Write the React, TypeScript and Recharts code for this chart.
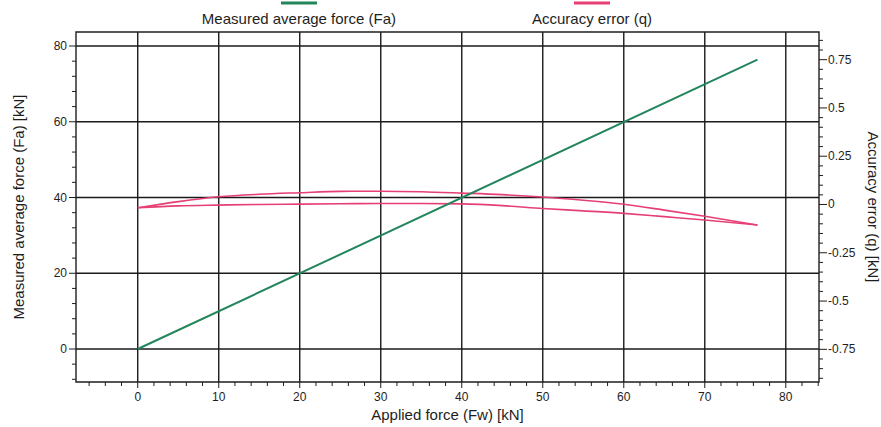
import React from 'react';
import {
  LineChart,
  Line,
  XAxis,
  YAxis,
  CartesianGrid,
  Legend,
  Label,
  ReferenceArea,
} from 'recharts';

const FONT = '"Liberation Sans", Arial, Helvetica, sans-serif';
const GREEN = '#23855b';
const PINK = '#e63f74';
const INK = '#1e1e1e';
const GRID = '#1a1a1a';

// Measured average force Fa against applied force Fw [kN]
const forceFw = [0, 76.5];
const forceFa = [0, 76.4];

// Accuracy error q [kN]: the two branches of the hysteresis loop
const errorFw = [0, 5, 10, 15, 20, 25, 30, 35, 40, 45, 50, 55, 60, 65, 70, 76.5];
const errorUpper = [-0.017, 0.015, 0.04, 0.053, 0.061, 0.068, 0.069, 0.066, 0.059, 0.051, 0.039, 0.022, 0.001, -0.029, -0.061, -0.106];
const errorLower = [-0.017, -0.007, -0.003, 0.0, 0.002, 0.004, 0.005, 0.005, 0.003, -0.006, -0.021, -0.033, -0.046, -0.063, -0.08, -0.106];

// Labelled tick values
const fwMajor = [0, 10, 20, 30, 40, 50, 60, 70, 80];
const faMajor = [0, 20, 40, 60, 80];
const qMajor = [-0.75, -0.5, -0.25, 0, 0.25, 0.5, 0.75];

const fwDomain: [number, number] = [-7.62, 84.1];
const faDomain: [number, number] = [-8.71, 83.7];
const qDomain: [number, number] = [-0.9192, 0.8933];

const series = [
  { name: 'Measured average force (Fa)', color: GREEN },
  { name: 'Accuracy error (q)', color: PINK },
];
const legendCenters = [299, 592];

// minor tick positions: every `step` from `from` to `to`
const steps = (from: number, to: number, step: number) => {
  const out: number[] = [];
  const n = Math.round((to - from) / step);
  for (let i = 0; i <= n; i++) out.push(Math.round((from + i * step) * 1000) / 1000);
  return out;
};
const fwTicks = steps(-6, 84, 2);
const faTicks = steps(-8, 80, 4);
const qTicks = steps(-0.9, 0.85, 0.05);

const faData = forceFw.map((fw, i) => ({ fw, fa: forceFa[i] }));
const upperData = errorFw.map((fw, i) => ({ fw, q: errorUpper[i] }));
const lowerData = errorFw.map((fw, i) => ({ fw, q: errorLower[i] }));

const isMajor = (list: number[], v: number) => list.some((m) => Math.abs(m - v) < 1e-6);
const fmt = (v: number) => String(Math.round(v * 100) / 100);

const tickText = { fontFamily: FONT, fontSize: 12, fill: INK } as const;

const LeftTick = (props: any) => {
  const { x, y, payload } = props;
  const major = isMajor(faMajor, payload.value);
  return (
    <g>
      <line x1={x - (major ? 7 : 4)} x2={x} y1={y} y2={y} stroke={INK} strokeWidth={1} />
      {major && (
        <text x={x - 9} y={y} textAnchor="end" dominantBaseline="central" {...tickText}>
          {fmt(payload.value)}
        </text>
      )}
    </g>
  );
};

const RightTick = (props: any) => {
  const { x, y, payload } = props;
  const major = isMajor(qMajor, payload.value);
  return (
    <g>
      <line x1={x} x2={x + (major ? 8 : 4)} y1={y} y2={y} stroke={INK} strokeWidth={1} />
      {major && (
        <text x={x + 9} y={y} textAnchor="start" dominantBaseline="central" {...tickText}>
          {fmt(payload.value)}
        </text>
      )}
    </g>
  );
};

const BottomTick = (props: any) => {
  const { x, y, payload } = props;
  const major = isMajor(fwMajor, payload.value);
  return (
    <g>
      <line x1={x} x2={x} y1={y} y2={y + (major ? 6 : 4)} stroke={INK} strokeWidth={1} />
      {major && (
        <text x={x} y={y + 15} textAnchor="middle" dominantBaseline="central" {...tickText}>
          {fmt(payload.value)}
        </text>
      )}
    </g>
  );
};

const titleText = { fontFamily: FONT, fontSize: 15, fill: INK } as const;

const LeftTitle = (props: any) => {
  const { x, y, height } = props.viewBox;
  const cx = x + 18;
  const cy = y + height / 2;
  return (
    <text x={cx} y={cy} transform={`rotate(-90 ${cx} ${cy})`} textAnchor="middle" dominantBaseline="central" {...titleText}>
      Measured average force (Fa) [kN]
    </text>
  );
};

const RightTitle = (props: any) => {
  const { x, y, height } = props.viewBox;
  const cx = x + 54;
  const cy = y + height / 2;
  return (
    <text x={cx} y={cy} transform={`rotate(90 ${cx} ${cy})`} textAnchor="middle" dominantBaseline="central" {...titleText}>
      Accuracy error (q) [kN]
    </text>
  );
};

const BottomTitle = (props: any) => {
  const { x, y, width } = props.viewBox;
  return (
    <text x={x + width / 2} y={y + 32} textAnchor="middle" dominantBaseline="central" {...titleText}>
      Applied force (Fw) [kN]
    </text>
  );
};

const LegendContent = () => (
  <svg width={881} height={32} style={{ display: 'block' }}>
    {series.map((s, i) => (
      <g key={s.name}>
        <line x1={legendCenters[i] - 18} x2={legendCenters[i] + 18} y1={3} y2={3} stroke={s.color} strokeWidth={3} />
        <text x={legendCenters[i]} y={18} textAnchor="middle" dominantBaseline="central" {...titleText}>
          {s.name}
        </text>
      </g>
    ))}
  </svg>
);

export default function App() {
  return (
    <div style={{ position: 'absolute', left: 0, top: 0, width: 881, height: 427, background: '#fff' }}>
      <LineChart width={881} height={427} margin={{ top: 32, right: 0, bottom: 0, left: 0 }}>
        <CartesianGrid
          yAxisId="left"
          horizontalValues={faMajor}
          verticalValues={fwMajor}
          stroke={GRID}
          strokeWidth={1.4}
          syncWithTicks={false}
        />
        <XAxis
          dataKey="fw"
          type="number"
          domain={fwDomain}
          allowDataOverflow
          ticks={fwTicks}
          interval={0}
          height={45}
          tickSize={0}
          tickMargin={0}
          tickLine={false}
          axisLine={false}
          tick={<BottomTick />}
        >
          <Label content={<BottomTitle />} />
        </XAxis>
        <YAxis
          yAxisId="left"
          orientation="left"
          type="number"
          domain={faDomain}
          allowDataOverflow
          ticks={faTicks}
          interval={0}
          width={76}
          tickSize={0}
          tickMargin={0}
          tickLine={false}
          axisLine={false}
          tick={<LeftTick />}
        >
          <Label content={<LeftTitle />} />
        </YAxis>
        <YAxis
          yAxisId="right"
          orientation="right"
          type="number"
          domain={qDomain}
          allowDataOverflow
          ticks={qTicks}
          interval={0}
          width={62}
          tickSize={0}
          tickMargin={0}
          tickLine={false}
          axisLine={false}
          tick={<RightTick />}
        >
          <Label content={<RightTitle />} />
        </YAxis>
        <ReferenceArea
          yAxisId="left"
          x1={fwDomain[0]}
          x2={fwDomain[1]}
          y1={faDomain[0]}
          y2={faDomain[1]}
          fill="none"
          stroke={INK}
          strokeWidth={1.4}
          ifOverflow="visible"
        />
        <Legend
          layout="horizontal"
          verticalAlign="middle"
          align="center"
          wrapperStyle={{ top: 0, left: 0, width: 881, height: 32 }}
          content={<LegendContent />}
        />
        <Line
          yAxisId="right"
          data={lowerData}
          dataKey="q"
          type="monotone"
          stroke={PINK}
          strokeWidth={1.6}
          dot={false}
          isAnimationActive={false}
        />
        <Line
          yAxisId="right"
          data={upperData}
          dataKey="q"
          type="monotone"
          stroke={PINK}
          strokeWidth={1.6}
          dot={false}
          isAnimationActive={false}
        />
        <Line
          yAxisId="left"
          data={faData}
          dataKey="fa"
          type="linear"
          stroke={GREEN}
          strokeWidth={2}
          dot={false}
          isAnimationActive={false}
        />
      </LineChart>
    </div>
  );
}
